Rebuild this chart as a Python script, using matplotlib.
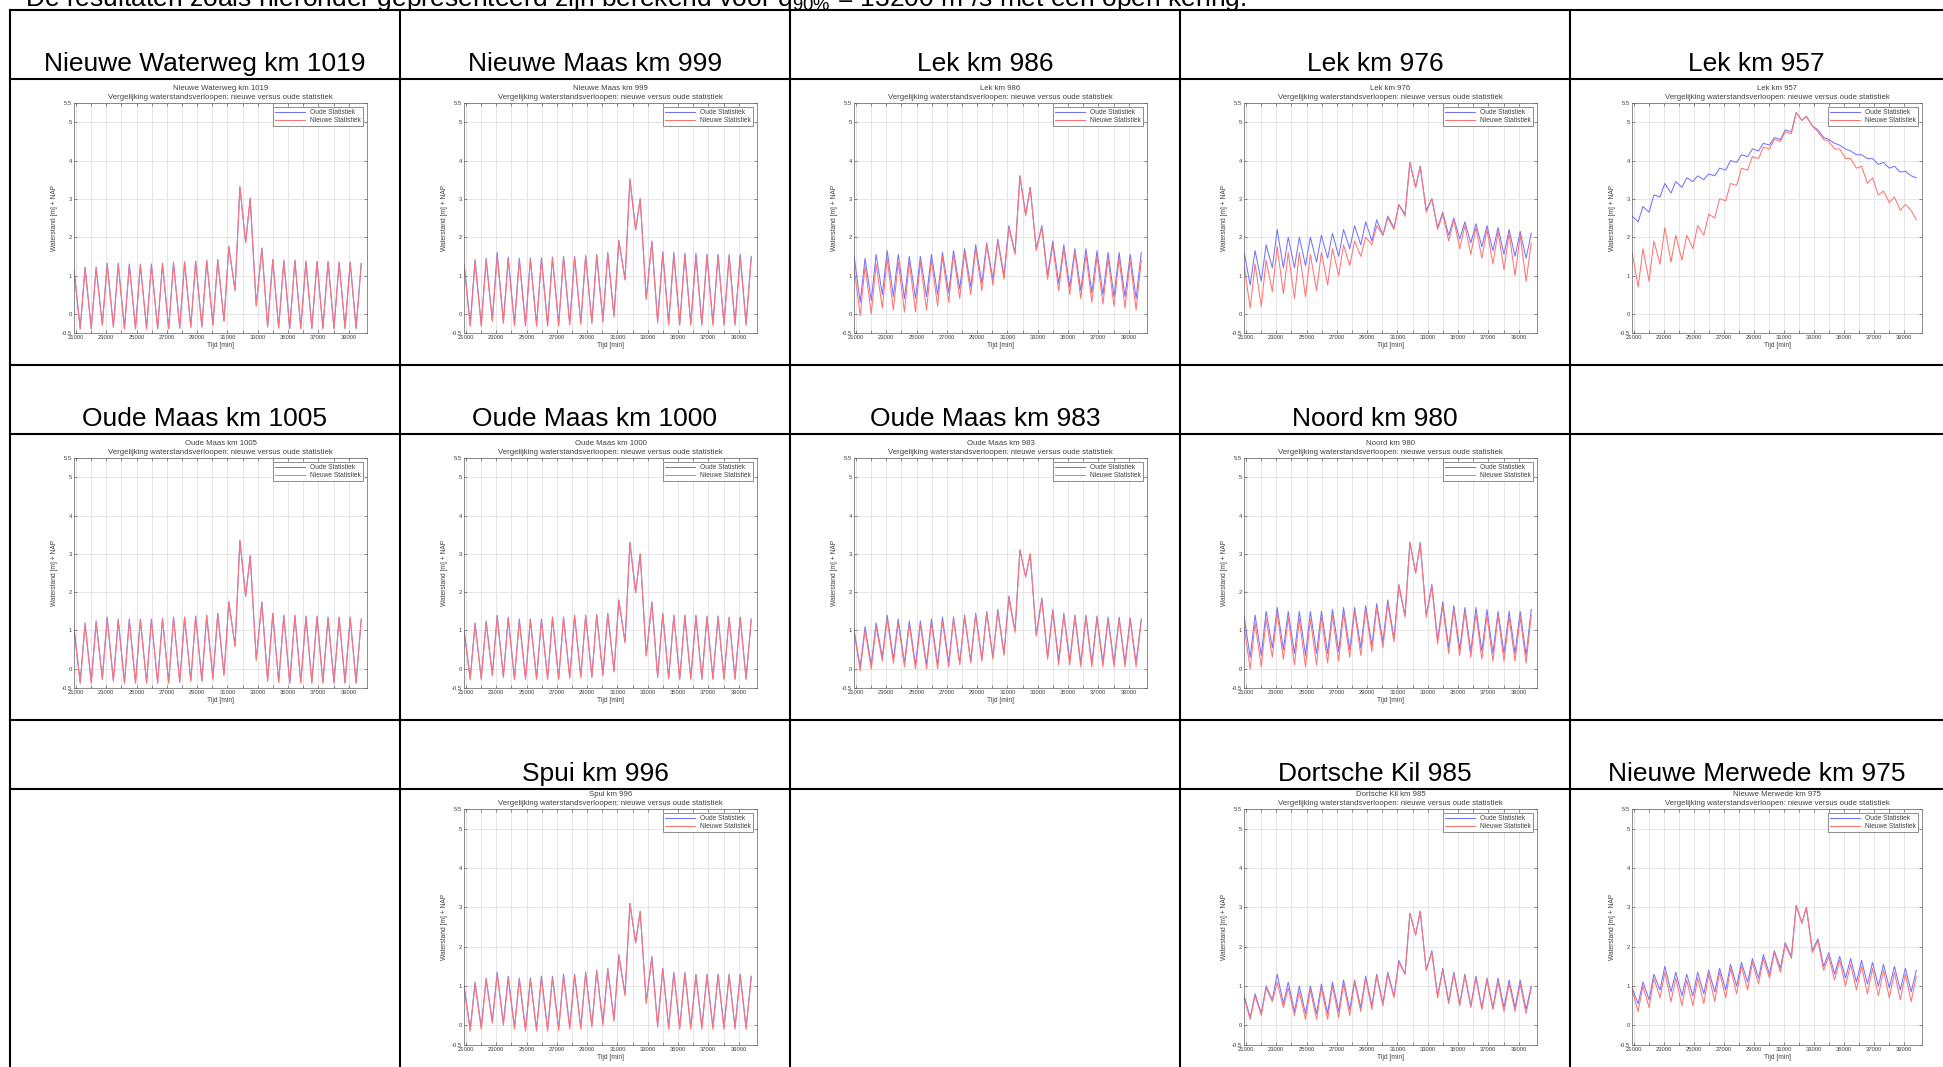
import matplotlib
matplotlib.use('Agg')
import matplotlib.pyplot as plt
from matplotlib.lines import Line2D

plt.rcParams['font.family'] = 'Liberation Sans'
plt.rcParams['mathtext.fontset'] = 'custom'
plt.rcParams['mathtext.rm'] = 'Liberation Sans'
plt.rcParams['mathtext.it'] = 'Liberation Sans:italic'

# tijdstippen hoog- en laagwater [min]
hw_t = [20880, 21600, 22330, 23060, 23790, 24520, 25250, 25980, 26710, 27440, 28170, 28900, 29630, 30360,
        31090, 31820, 32500, 33270, 33990, 34720, 35450, 36180, 36910, 37640, 38370, 39100, 39830]
lw_t = [21280, 22010, 22740, 23470, 24200, 24930, 25660, 26390, 27120, 27850, 28580, 29310, 30040, 30770,
        31500, 32200, 32900, 33650, 34380, 35110, 35840, 36570, 37300, 38030, 38760, 39490]

# Nieuwe Waterweg km 1019
nww_oud_hw = [1.12, 1.22, 1.22, 1.32, 1.32, 1.3, 1.3, 1.3, 1.32, 1.34, 1.36, 1.38, 1.4, 1.42, 1.76, 3.32, 3.02, 1.72, 1.42, 1.4, 1.4, 1.38, 1.37, 1.37, 1.35, 1.35, 1.32]
nww_oud_lw = [-0.38, -0.38, -0.28, -0.33, -0.38, -0.38, -0.38, -0.38, -0.38, -0.36, -0.34, -0.33, -0.28, -0.18, 0.62, 1.86, 0.22, -0.33, -0.36, -0.37, -0.37, -0.37, -0.37, -0.37, -0.37, -0.37]
nww_nieuw_hw = [1.1, 1.18, 1.18, 1.28, 1.28, 1.26, 1.27, 1.27, 1.3, 1.32, 1.34, 1.36, 1.38, 1.4, 1.75, 3.3, 3.0, 1.7, 1.4, 1.38, 1.38, 1.36, 1.35, 1.35, 1.33, 1.33, 1.3]
nww_nieuw_lw = [-0.4, -0.4, -0.3, -0.35, -0.4, -0.4, -0.4, -0.4, -0.4, -0.38, -0.36, -0.35, -0.3, -0.2, 0.6, 1.85, 0.2, -0.35, -0.38, -0.39, -0.39, -0.39, -0.39, -0.39, -0.39, -0.39]

# Nieuwe Maas km 999
nm_oud_hw = [1.3, 1.42, 1.45, 1.6, 1.48, 1.45, 1.45, 1.46, 1.48, 1.5, 1.5, 1.52, 1.55, 1.6, 1.92, 3.52, 3.0, 1.9, 1.62, 1.6, 1.58, 1.58, 1.56, 1.55, 1.55, 1.55, 1.5]
nm_oud_lw = [-0.28, -0.28, -0.15, -0.2, -0.27, -0.28, -0.28, -0.28, -0.27, -0.25, -0.23, -0.22, -0.18, -0.05, 0.9, 2.2, 0.4, -0.2, -0.25, -0.26, -0.26, -0.26, -0.26, -0.26, -0.26, -0.26]
nm_nieuw_hw = [1.25, 1.35, 1.38, 1.5, 1.4, 1.4, 1.4, 1.42, 1.45, 1.47, 1.48, 1.5, 1.53, 1.58, 1.9, 3.5, 3.0, 1.86, 1.56, 1.54, 1.52, 1.5, 1.5, 1.5, 1.48, 1.48, 1.45]
nm_nieuw_lw = [-0.33, -0.33, -0.2, -0.25, -0.32, -0.33, -0.33, -0.33, -0.32, -0.3, -0.28, -0.26, -0.22, -0.08, 0.88, 2.18, 0.38, -0.24, -0.29, -0.3, -0.3, -0.3, -0.3, -0.3, -0.3, -0.3]

# Lek km 986
lek986_oud_hw = [1.5, 1.45, 1.55, 1.65, 1.55, 1.5, 1.5, 1.55, 1.6, 1.65, 1.7, 1.8, 1.85, 1.95, 2.3, 3.6, 3.3, 2.3, 1.9, 1.8, 1.7, 1.7, 1.65, 1.6, 1.6, 1.55, 1.6]
lek986_oud_lw = [0.3, 0.35, 0.5, 0.45, 0.4, 0.4, 0.45, 0.5, 0.55, 0.65, 0.7, 0.8, 0.9, 1.0, 1.6, 2.6, 1.7, 1.0, 0.8, 0.7, 0.6, 0.55, 0.5, 0.45, 0.45, 0.4]
lek986_nieuw_hw = [1.2, 1.25, 1.3, 1.45, 1.35, 1.35, 1.35, 1.4, 1.5, 1.55, 1.6, 1.7, 1.8, 1.9, 2.25, 3.6, 3.3, 2.25, 1.8, 1.7, 1.6, 1.55, 1.5, 1.45, 1.45, 1.4, 1.4]
lek986_nieuw_lw = [-0.05, 0.0, 0.15, 0.1, 0.05, 0.05, 0.1, 0.2, 0.3, 0.4, 0.5, 0.6, 0.75, 0.9, 1.55, 2.55, 1.65, 0.9, 0.6, 0.5, 0.4, 0.3, 0.25, 0.2, 0.15, 0.1]

# Lek km 976
lek976_oud_hw = [1.6, 1.65, 1.8, 2.2, 2.0, 2.0, 2.0, 2.05, 2.1, 2.2, 2.3, 2.4, 2.45, 2.55, 2.85, 3.95, 3.85, 3.0, 2.65, 2.5, 2.4, 2.35, 2.3, 2.25, 2.2, 2.15, 2.1]
lek976_oud_lw = [0.75, 0.85, 1.2, 1.2, 1.2, 1.26, 1.35, 1.45, 1.5, 1.7, 1.8, 1.9, 2.05, 2.25, 2.6, 3.3, 2.7, 2.25, 2.05, 1.95, 1.85, 1.75, 1.65, 1.55, 1.5, 1.45]
lek976_nieuw_hw = [1.25, 1.3, 1.4, 1.75, 1.6, 1.6, 1.55, 1.6, 1.7, 1.8, 1.9, 2.0, 2.3, 2.5, 2.85, 3.95, 3.85, 3.0, 2.6, 2.45, 2.3, 2.25, 2.2, 2.15, 2.1, 2.05, 1.85]
lek976_nieuw_lw = [0.15, 0.2, 0.58, 0.52, 0.4, 0.45, 0.6, 0.75, 1.0, 1.26, 1.5, 1.8, 2.05, 2.2, 2.55, 3.3, 2.65, 2.2, 1.9, 1.7, 1.55, 1.45, 1.3, 1.15, 1.0, 0.85]

# Lek km 957
lek957_oud_hw = [2.55, 2.8, 3.1, 3.4, 3.45, 3.55, 3.6, 3.65, 3.8, 4.0, 4.15, 4.3, 4.45, 4.6, 4.8, 5.25, 5.15, 4.8, 4.55, 4.4, 4.25, 4.15, 4.05, 3.95, 3.85, 3.72, 3.55]
lek957_oud_lw = [2.4, 2.65, 3.05, 3.15, 3.3, 3.45, 3.5, 3.6, 3.75, 3.95, 4.1, 4.25, 4.4, 4.55, 4.75, 5.05, 4.9, 4.6, 4.45, 4.3, 4.15, 4.05, 3.9, 3.8, 3.7, 3.6]
lek957_nieuw_hw = [1.6, 1.7, 1.9, 2.25, 2.05, 2.05, 2.3, 2.6, 3.0, 3.4, 3.8, 4.1, 4.35, 4.55, 4.75, 5.25, 5.15, 4.75, 4.5, 4.3, 4.05, 3.85, 3.55, 3.2, 3.05, 2.85, 2.45]
lek957_nieuw_lw = [0.7, 0.85, 1.3, 1.35, 1.4, 1.7, 2.05, 2.5, 2.95, 3.35, 3.75, 4.05, 4.3, 4.5, 4.7, 5.05, 4.9, 4.55, 4.3, 4.05, 3.8, 3.4, 3.1, 2.9, 2.7, 2.7]

# Oude Maas km 1005
om1005_oud_hw = [1.05, 1.2, 1.25, 1.35, 1.3, 1.3, 1.3, 1.3, 1.32, 1.35, 1.35, 1.38, 1.4, 1.45, 1.75, 3.35, 2.95, 1.75, 1.45, 1.4, 1.4, 1.38, 1.38, 1.35, 1.35, 1.35, 1.3]
om1005_oud_lw = [-0.35, -0.35, -0.25, -0.3, -0.35, -0.35, -0.35, -0.35, -0.35, -0.33, -0.3, -0.3, -0.25, -0.15, 0.6, 1.9, 0.25, -0.3, -0.33, -0.35, -0.35, -0.35, -0.35, -0.35, -0.35, -0.35]
om1005_nieuw_hw = [1.0, 1.15, 1.2, 1.3, 1.25, 1.25, 1.27, 1.28, 1.3, 1.32, 1.33, 1.36, 1.38, 1.43, 1.74, 3.35, 2.95, 1.72, 1.42, 1.38, 1.37, 1.35, 1.35, 1.33, 1.33, 1.32, 1.28]
om1005_nieuw_lw = [-0.38, -0.38, -0.28, -0.33, -0.38, -0.38, -0.38, -0.38, -0.38, -0.36, -0.33, -0.33, -0.28, -0.18, 0.58, 1.88, 0.22, -0.33, -0.36, -0.38, -0.38, -0.38, -0.38, -0.38, -0.38, -0.38]

# Oude Maas km 1000
om1000_oud_hw = [1.0, 1.2, 1.25, 1.4, 1.35, 1.3, 1.3, 1.3, 1.35, 1.35, 1.4, 1.4, 1.42, 1.45, 1.8, 3.3, 3.0, 1.75, 1.45, 1.4, 1.4, 1.4, 1.38, 1.38, 1.35, 1.35, 1.3]
om1000_oud_lw = [-0.25, -0.25, -0.15, -0.2, -0.25, -0.25, -0.25, -0.25, -0.25, -0.22, -0.2, -0.2, -0.15, -0.05, 0.7, 2.0, 0.35, -0.2, -0.24, -0.25, -0.25, -0.25, -0.25, -0.25, -0.25, -0.25]
om1000_nieuw_hw = [0.95, 1.15, 1.2, 1.35, 1.3, 1.25, 1.26, 1.27, 1.32, 1.33, 1.38, 1.38, 1.4, 1.44, 1.78, 3.3, 3.0, 1.72, 1.42, 1.38, 1.37, 1.37, 1.35, 1.35, 1.33, 1.33, 1.28]
om1000_nieuw_lw = [-0.28, -0.28, -0.18, -0.23, -0.28, -0.28, -0.28, -0.28, -0.28, -0.25, -0.23, -0.23, -0.18, -0.08, 0.68, 1.98, 0.33, -0.23, -0.27, -0.28, -0.28, -0.28, -0.28, -0.28, -0.28, -0.28]

# Oude Maas km 983
om983_oud_hw = [1.0, 1.1, 1.2, 1.4, 1.3, 1.25, 1.25, 1.3, 1.35, 1.35, 1.4, 1.45, 1.5, 1.55, 1.9, 3.1, 3.0, 1.85, 1.55, 1.45, 1.4, 1.4, 1.38, 1.35, 1.35, 1.33, 1.3]
om983_oud_lw = [0.05, 0.1, 0.3, 0.25, 0.15, 0.1, 0.1, 0.1, 0.15, 0.15, 0.2, 0.25, 0.3, 0.4, 1.0, 2.4, 0.9, 0.3, 0.2, 0.2, 0.15, 0.15, 0.15, 0.15, 0.15, 0.15]
om983_nieuw_hw = [0.95, 1.0, 1.1, 1.3, 1.2, 1.15, 1.15, 1.2, 1.25, 1.3, 1.35, 1.4, 1.45, 1.5, 1.85, 3.1, 3.0, 1.8, 1.5, 1.4, 1.35, 1.35, 1.32, 1.3, 1.3, 1.28, 1.25]
om983_nieuw_lw = [-0.05, 0.0, 0.2, 0.15, 0.05, 0.0, 0.0, 0.0, 0.05, 0.1, 0.15, 0.2, 0.25, 0.35, 0.95, 2.4, 0.85, 0.25, 0.1, 0.1, 0.05, 0.05, 0.05, 0.05, 0.05, 0.05]

# Noord km 980
noord_oud_hw = [1.35, 1.4, 1.5, 1.6, 1.5, 1.5, 1.5, 1.5, 1.55, 1.6, 1.6, 1.65, 1.7, 1.8, 2.2, 3.3, 3.3, 2.2, 1.75, 1.65, 1.6, 1.6, 1.55, 1.5, 1.5, 1.5, 1.55]
noord_oud_lw = [0.3, 0.35, 0.55, 0.5, 0.4, 0.35, 0.4, 0.4, 0.45, 0.5, 0.55, 0.6, 0.7, 0.8, 1.4, 2.5, 1.4, 0.75, 0.55, 0.5, 0.45, 0.45, 0.4, 0.4, 0.4, 0.35]
noord_nieuw_hw = [1.1, 1.2, 1.3, 1.45, 1.35, 1.3, 1.3, 1.35, 1.4, 1.45, 1.5, 1.55, 1.6, 1.7, 2.15, 3.3, 3.25, 2.15, 1.65, 1.55, 1.5, 1.45, 1.4, 1.4, 1.35, 1.35, 1.4]
noord_nieuw_lw = [0.0, 0.05, 0.3, 0.25, 0.1, 0.05, 0.1, 0.15, 0.2, 0.3, 0.35, 0.45, 0.55, 0.7, 1.35, 2.5, 1.35, 0.65, 0.4, 0.35, 0.3, 0.25, 0.2, 0.2, 0.2, 0.15]

# Spui km 996
spui_oud_hw = [1.0, 1.1, 1.2, 1.35, 1.25, 1.2, 1.2, 1.25, 1.25, 1.3, 1.3, 1.35, 1.4, 1.45, 1.8, 3.1, 2.9, 1.75, 1.45, 1.35, 1.35, 1.3, 1.3, 1.3, 1.3, 1.3, 1.25]
spui_oud_lw = [-0.1, -0.05, 0.1, 0.05, -0.05, -0.1, -0.1, -0.1, -0.08, -0.05, -0.05, 0.0, 0.05, 0.15, 0.8, 2.1, 0.6, 0.0, -0.05, -0.05, -0.05, -0.05, -0.05, -0.05, -0.05, -0.05]
spui_nieuw_hw = [0.95, 1.05, 1.15, 1.3, 1.2, 1.15, 1.15, 1.2, 1.2, 1.25, 1.28, 1.32, 1.38, 1.42, 1.75, 3.1, 2.9, 1.72, 1.42, 1.32, 1.32, 1.28, 1.28, 1.28, 1.27, 1.27, 1.22]
spui_nieuw_lw = [-0.15, -0.1, 0.05, 0.0, -0.1, -0.15, -0.15, -0.15, -0.13, -0.1, -0.1, -0.05, 0.0, 0.1, 0.75, 2.1, 0.55, -0.05, -0.1, -0.1, -0.1, -0.1, -0.1, -0.1, -0.1, -0.1]

# Dortsche Kil km 985
dk_oud_hw = [0.75, 0.8, 1.0, 1.3, 1.1, 1.0, 1.0, 1.05, 1.1, 1.15, 1.15, 1.25, 1.3, 1.35, 1.65, 2.85, 2.9, 1.9, 1.45, 1.35, 1.3, 1.25, 1.2, 1.2, 1.15, 1.15, 1.0]
dk_oud_lw = [0.2, 0.3, 0.65, 0.55, 0.35, 0.3, 0.3, 0.3, 0.35, 0.4, 0.45, 0.5, 0.55, 0.75, 1.3, 2.3, 1.4, 0.75, 0.6, 0.55, 0.5, 0.45, 0.45, 0.45, 0.45, 0.4]
dk_nieuw_hw = [0.7, 0.75, 0.95, 1.1, 0.95, 0.85, 0.9, 0.95, 1.0, 1.05, 1.1, 1.2, 1.25, 1.3, 1.6, 2.85, 2.9, 1.85, 1.4, 1.3, 1.25, 1.2, 1.15, 1.1, 1.05, 1.05, 0.95]
dk_nieuw_lw = [0.15, 0.25, 0.6, 0.45, 0.25, 0.15, 0.15, 0.15, 0.2, 0.25, 0.35, 0.4, 0.5, 0.7, 1.3, 2.3, 1.4, 0.7, 0.55, 0.5, 0.45, 0.4, 0.4, 0.35, 0.35, 0.3]

# Nieuwe Merwede km 975
nmw_oud_hw = [0.95, 1.1, 1.3, 1.5, 1.35, 1.3, 1.35, 1.4, 1.45, 1.55, 1.6, 1.7, 1.8, 1.9, 2.1, 3.05, 3.0, 2.2, 1.85, 1.75, 1.7, 1.65, 1.6, 1.55, 1.5, 1.45, 1.4]
nmw_oud_lw = [0.55, 0.65, 0.9, 0.85, 0.75, 0.75, 0.8, 0.85, 0.9, 1.0, 1.1, 1.2, 1.3, 1.45, 1.75, 2.6, 1.9, 1.5, 1.3, 1.2, 1.1, 1.05, 1.0, 0.95, 0.9, 0.85]
nmw_nieuw_hw = [0.9, 1.0, 1.2, 1.35, 1.2, 1.15, 1.2, 1.3, 1.35, 1.45, 1.5, 1.6, 1.7, 1.85, 2.05, 3.05, 3.0, 2.15, 1.75, 1.65, 1.55, 1.5, 1.45, 1.4, 1.35, 1.3, 1.25]
nmw_nieuw_lw = [0.35, 0.45, 0.7, 0.6, 0.5, 0.5, 0.55, 0.6, 0.7, 0.8, 0.9, 1.05, 1.2, 1.35, 1.7, 2.6, 1.85, 1.4, 1.15, 1.0, 0.9, 0.8, 0.75, 0.7, 0.65, 0.6]

headers_row1 = ['Nieuwe Waterweg km 1019', 'Nieuwe Maas km 999', 'Lek km 986', 'Lek km 976', 'Lek km 957']
headers_row2 = ['Oude Maas km 1005', 'Oude Maas km 1000', 'Oude Maas km 983', 'Noord km 980', '']
headers_row3 = ['', 'Spui km 996', '', 'Dortsche Kil 985', 'Nieuwe Merwede km 975']

# (rij, kolom, titel, oud hw, oud lw, nieuw hw, nieuw lw)
panels = [
    (0, 0, 'Nieuwe Waterweg km 1019', nww_oud_hw, nww_oud_lw, nww_nieuw_hw, nww_nieuw_lw),
    (0, 1, 'Nieuwe Maas km 999', nm_oud_hw, nm_oud_lw, nm_nieuw_hw, nm_nieuw_lw),
    (0, 2, 'Lek km 986', lek986_oud_hw, lek986_oud_lw, lek986_nieuw_hw, lek986_nieuw_lw),
    (0, 3, 'Lek km 976', lek976_oud_hw, lek976_oud_lw, lek976_nieuw_hw, lek976_nieuw_lw),
    (0, 4, 'Lek km 957', lek957_oud_hw, lek957_oud_lw, lek957_nieuw_hw, lek957_nieuw_lw),
    (1, 0, 'Oude Maas km 1005', om1005_oud_hw, om1005_oud_lw, om1005_nieuw_hw, om1005_nieuw_lw),
    (1, 1, 'Oude Maas km 1000', om1000_oud_hw, om1000_oud_lw, om1000_nieuw_hw, om1000_nieuw_lw),
    (1, 2, 'Oude Maas km 983', om983_oud_hw, om983_oud_lw, om983_nieuw_hw, om983_nieuw_lw),
    (1, 3, 'Noord km 980', noord_oud_hw, noord_oud_lw, noord_nieuw_hw, noord_nieuw_lw),
    (2, 1, 'Spui km 996', spui_oud_hw, spui_oud_lw, spui_nieuw_hw, spui_nieuw_lw),
    (2, 3, 'Dortsche Kil km 985', dk_oud_hw, dk_oud_lw, dk_nieuw_hw, dk_nieuw_lw),
    (2, 4, 'Nieuwe Merwede km 975', nmw_oud_hw, nmw_oud_lw, nmw_nieuw_hw, nmw_nieuw_lw),
]

W, H = 1943, 1067
fig = plt.figure(figsize=(W / 100, H / 100), dpi=100)
fig.patch.set_facecolor('white')


def fx(x):
    return x / W


def fy(y):
    return 1 - y / H


def tide(hw, lw):
    # hoog- en laagwaters om en om achter elkaar
    t, v = [], []
    for i in range(len(hw)):
        t.append(hw_t[i])
        v.append(hw[i])
        if i < len(lw):
            t.append(lw_t[i])
            v.append(lw[i])
    return t, v


col_x = [10, 400, 790, 1180, 1570, 1943]
row_y = [10, 79, 365, 434, 720, 789, 1075]

# tabel lijnen
for y in row_y[:-1]:
    fig.add_artist(Line2D([fx(10), 1], [fy(y), fy(y)], color='black', lw=1.5,
                          transform=fig.transFigure))
for x in col_x[:-1]:
    fig.add_artist(Line2D([fx(x), fx(x)], [fy(10), 0], color='black', lw=1.5,
                          transform=fig.transFigure))

# tekst boven de tabel (bovenkant valt buiten beeld, zoals in het origineel)
fig.text(fx(25), fy(6), r'De resultaten zoals hieronder gepresenteerd zijn berekend voor q$_{90\%}$ = 13200 m³/s met een open kering.',
         ha='left', va='baseline', fontsize=19)

for r, names in enumerate([headers_row1, headers_row2, headers_row3]):
    for c, name in enumerate(names):
        if name:
            fig.text(fx((col_x[c] + col_x[c + 1]) / 2), fy(row_y[2 * r + 1] - 8), name,
                     ha='center', va='baseline', fontsize=19)

txt = '#404040'
for r, c, title, oud_hw, oud_lw, nieuw_hw, nieuw_lw in panels:
    cell_top = row_y[2 * r + 1]
    left = col_x[c] + (62 if c == 4 else 64)
    right = col_x[c] + (352 if c == 4 else 357)
    top = cell_top + (20 if r == 2 else 24)
    bottom = cell_top + (256 if r == 2 else 254)
    ax = fig.add_axes([fx(left), fy(bottom), (right - left) / W, (bottom - top) / H])

    t, v = tide(oud_hw, oud_lw)
    ax.plot(t, v, color='#7474ff', lw=0.75, label='Oude Statistiek')
    t, v = tide(nieuw_hw, nieuw_lw)
    ax.plot(t, v, color='#ff7474', lw=0.75, label='Nieuwe Statistiek')

    ax.set_xlim(20870, 40210)
    ax.set_ylim(-0.5, 5.5)
    xt = list(range(21000, 40000, 1000))
    ax.set_xticks(xt)
    ax.set_xticklabels([str(x) if (x - 21000) % 2000 == 0 else '' for x in xt])
    ax.set_yticks([-0.5, 0, 1, 2, 3, 4, 5, 5.5])
    ax.set_yticklabels(['-0.5', '0', '1', '2', '3', '4', '5', '5.5'])
    ax.tick_params(direction='in', length=2, width=0.4, labelsize=4.2, colors=txt, pad=1.5,
                   top=True, right=True)
    ax.grid(True, color='#dcdcdc', lw=0.5)
    for s in ax.spines.values():
        s.set_color('#606060')
        s.set_linewidth(0.5)
    ax.set_title(title + '\nVergelijking waterstandsverloopen: nieuwe versus oude statistiek',
                 fontsize=5.6, color=txt, pad=3, linespacing=1.3)
    ax.set_xlabel('Tijd [min]', fontsize=4.8, color=txt, labelpad=1.5)
    ax.set_ylabel('Waterstand [m] + NAP', fontsize=4.8, color=txt, labelpad=3)
    leg = ax.legend(loc='upper right', fontsize=4.8, fancybox=False, edgecolor='#606060',
                    framealpha=1, handlelength=4.5, borderpad=0.3, labelspacing=0.15,
                    borderaxespad=0.6)
    leg.get_frame().set_linewidth(0.5)
    for tx in leg.get_texts():
        tx.set_color(txt)

fig.savefig('out.png', dpi=100)
